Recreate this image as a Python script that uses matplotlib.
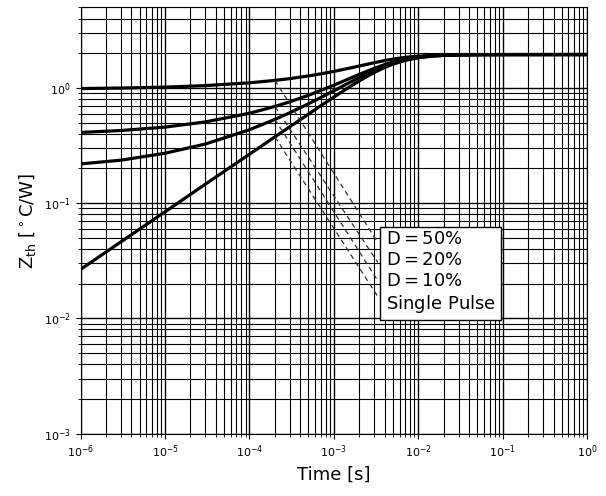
import numpy as np
import matplotlib
matplotlib.use('Agg')
from matplotlib import pyplot as plt

# time axis [s] and Zth readings [degC/W] for each curve
time_s = [1e-6, 3e-6, 1e-5, 3e-5, 1e-4, 2e-4, 3e-4, 5e-4, 7e-4, 1e-3, 1.5e-3, 2e-3,
          3e-3, 4e-3, 5e-3, 7e-3, 1e-2, 1.5e-2, 2e-2, 3e-2, 5e-2, 1e-1, 1.0]
zth_d50 = [0.988, 0.998, 1.017, 1.048, 1.108, 1.163, 1.205, 1.272, 1.326, 1.392, 1.481, 1.551,
           1.656, 1.729, 1.780, 1.844, 1.890, 1.921, 1.933, 1.943, 1.947, 1.949, 1.950]
zth_d20 = [0.411, 0.427, 0.457, 0.507, 0.603, 0.691, 0.758, 0.864, 0.951, 1.057, 1.199, 1.312,
           1.479, 1.596, 1.677, 1.780, 1.854, 1.904, 1.923, 1.938, 1.945, 1.948, 1.950]
zth_d10 = [0.219, 0.236, 0.271, 0.326, 0.434, 0.533, 0.609, 0.729, 0.826, 0.946, 1.105, 1.232,
           1.420, 1.551, 1.643, 1.758, 1.842, 1.898, 1.919, 1.937, 1.945, 1.948, 1.950]
zth_single = [0.0266, 0.0461, 0.0841, 0.146, 0.266, 0.376, 0.460, 0.593, 0.701, 0.834, 1.011, 1.152,
              1.361, 1.507, 1.609, 1.737, 1.830, 1.892, 1.916, 1.935, 1.944, 1.948, 1.950]

labels = ['D = 50%', 'D = 20%', 'D = 10%', 'Single Pulse']
# leader lines: start on each curve at this time, end at the label box
leader_start_t = 2e-4
leader_end_t = 3.3e-3
leader_end_z = [0.0457, 0.0306, 0.0213, 0.0155]

curves = [zth_d50, zth_d20, zth_d10, zth_single]

fig = plt.figure(figsize=(6.06, 4.96), dpi=100)
ax = fig.add_subplot(111)
fig.subplots_adjust(left=0.133, right=0.969, bottom=0.126, top=0.985)

for z in curves:
    ax.plot(time_s, z, color='black', lw=2.3, zorder=3)

# dashed leaders from the curves to the labels
for z, z_end in zip(curves, leader_end_z):
    z_start = 10 ** np.interp(np.log10(leader_start_t), np.log10(time_s), np.log10(z))
    ax.plot([leader_start_t, leader_end_t], [z_start, z_end], color='#333333',
            lw=0.9, ls=(0, (4, 3)), zorder=3)

ax.set_xscale('log')
ax.set_yscale('log')
ax.set_xlim(1e-6, 1)
ax.set_ylim(1e-3, 5)
ax.grid(True, which='major', color='black', lw=1.0)
ax.grid(True, which='minor', color='black', lw=0.8)
ax.set_axisbelow(True)
ax.tick_params(labelsize=8)

ax.set_xlabel('Time [s]', fontsize=13)
ax.set_ylabel(r'$\mathrm{Z_{th}\ [^\circ C/W]}$', fontsize=13)

legend_lines = []
for s in labels:
    legend_lines.append(r'$\mathrm{' + s.replace('%', r'\%').replace('Single ', r'Single\ ') + '}$')
ax.text(0.602, 0.477, '\n'.join(legend_lines), transform=ax.transAxes, ha='left', va='top',
        fontsize=13, zorder=5, linespacing=1.2,
        bbox=dict(boxstyle='square,pad=0.3', facecolor='white', edgecolor='black', lw=1.0))

plt.savefig('out.png', dpi=100)
